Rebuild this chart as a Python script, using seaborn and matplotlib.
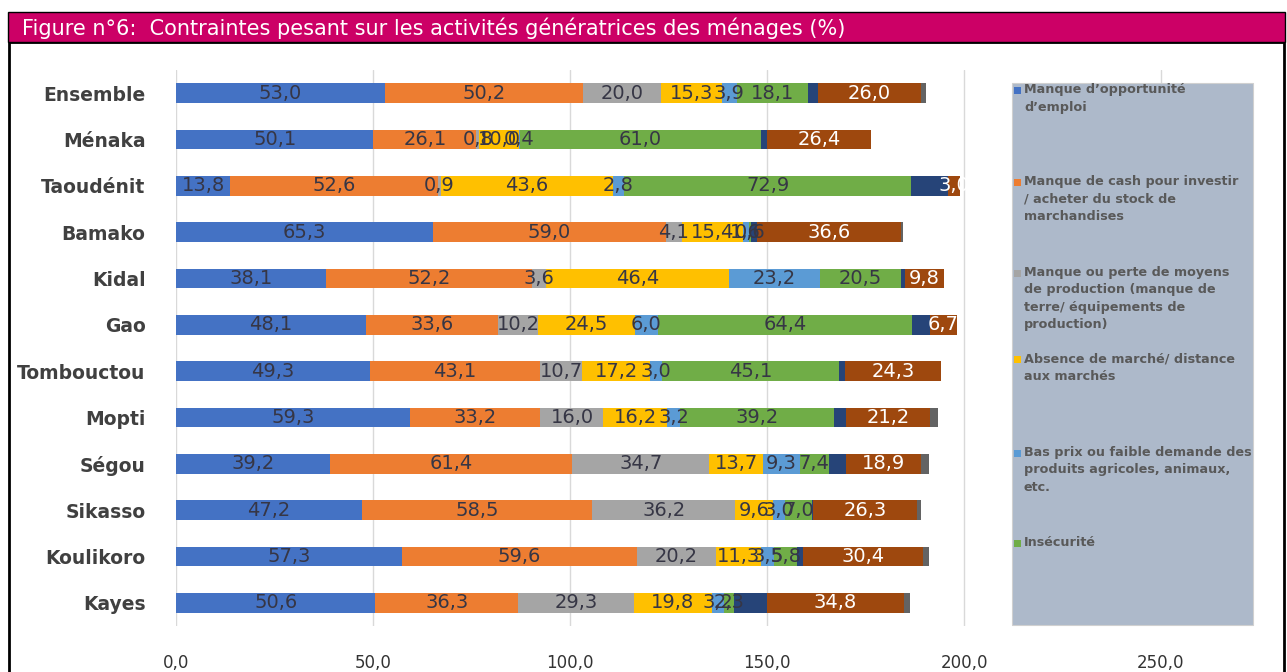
import matplotlib.pyplot as plt
import matplotlib.patches as mpatches
from matplotlib.ticker import FuncFormatter
import pandas as pd
import seaborn as sns

# donnees
regions = ["Ensemble", "Ménaka", "Taoudénit", "Bamako", "Kidal", "Gao", "Tombouctou",
           "Mopti", "Ségou", "Sikasso", "Koulikoro", "Kayes"]

emploi = [53.0, 50.1, 13.8, 65.3, 38.1, 48.1, 49.3, 59.3, 39.2, 47.2, 57.3, 50.6]
cash = [50.2, 26.1, 52.6, 59.0, 52.2, 33.6, 43.1, 33.2, 61.4, 58.5, 59.6, 36.3]
moyens = [20.0, 0.8, 0.9, 4.1, 3.6, 10.2, 10.7, 16.0, 34.7, 36.2, 20.2, 29.3]
marche = [15.3, 10.0, 43.6, 15.4, 46.4, 24.5, 17.2, 16.2, 13.7, 9.6, 11.3, 19.8]
bas_prix = [3.9, 0.4, 2.8, 1.6, 23.2, 6.0, 3.0, 3.2, 9.3, 3.0, 3.5, 3.2]
insecurite = [18.1, 61.0, 72.9, 0.6, 20.5, 64.4, 45.1, 39.2, 7.4, 7.0, 5.8, 2.3]
autre_1 = [2.5, 1.6, 9.4, 1.5, 1.0, 4.6, 1.5, 3.0, 4.4, 0.2, 1.4, 8.5]
autre_2 = [26.0, 26.4, 3.0, 36.6, 9.8, 6.7, 24.3, 21.2, 18.9, 26.3, 30.4, 34.8]
autre_3 = [1.3, 0.0, 0.0, 0.5, 0.0, 0.0, 0.0, 2.2, 2.0, 1.0, 1.5, 1.5]

legend_labels = [
    "Manque d’opportunité\nd’emploi",
    "Manque de cash pour investir\n/ acheter du stock de\nmarchandises",
    "Manque ou perte de moyens\nde production (manque de\nterre/ équipements de\nproduction)",
    "Absence de marché/ distance\naux marchés",
    "Bas prix ou faible demande des\nproduits agricoles, animaux,\netc.",
    "Insécurité",
]
xticks = [0, 50, 100, 150, 200, 250]

series = [emploi, cash, moyens, marche, bas_prix, insecurite, autre_1, autre_2, autre_3]
colors = ["#4472C4", "#ED7D31", "#A5A5A5", "#FFC000", "#5B9BD5", "#70AD47",
          "#264478", "#9E480E", "#636363"]
# etiquettes affichees pour les 6 premieres series et la 8e
show_label = [True, True, True, True, True, True, False, True, False]
label_color = ["#363645"] * 6 + ["white", "white", "white"]

df = pd.DataFrame({f"s{i}": s for i, s in enumerate(series)}, index=regions)
cum = df.cumsum(axis=1)

sns.set_theme(style="white")
plt.rcParams['font.family'] = ['DejaVu Sans']

W, H = 1287, 672
fig = plt.figure(figsize=(W / 100, H / 100), dpi=100)


def fx(px):
    return px / W


def fy(py):
    return 1 - py / H


ax = fig.add_axes([fx(176), fy(626), fx(1253) - fx(176), fy(70) - fy(626)])

# barres empilees: on dessine les cumuls du plus grand au plus petit
for i in reversed(range(len(series))):
    sns.barplot(x=cum[f"s{i}"].values, y=regions, orient="h", color=colors[i],
                width=0.43, linewidth=0, saturation=1, ax=ax)

for i in range(len(series)):
    if not show_label[i]:
        continue
    for j, reg in enumerate(regions):
        v = df.iloc[j, i]
        if v <= 0:
            continue
        left = cum.iloc[j, i] - v
        ax.text(left + v / 2, j, f"{v:.1f}".replace(".", ","), ha="center", va="center",
                fontsize=14, color=label_color[i], zorder=5)

ax.set_xlim(0, (1253 - 176) / 3.94)
ax.set_ylim(len(regions) - 0.5, -0.5)
ax.set_xticks(xticks)
ax.xaxis.set_major_formatter(FuncFormatter(lambda v, p: f"{v:.1f}".replace(".", ",")))
ax.xaxis.grid(True, color="#D9D9D9", lw=1)
ax.yaxis.grid(False)
ax.set_axisbelow(True)
for s in ax.spines.values():
    s.set_visible(False)
ax.set_xlabel("")
ax.set_ylabel("")
ax.tick_params(axis="x", labelsize=12, colors="#333333", pad=20, length=0)
ax.tick_params(axis="y", labelsize=13.5, colors="#404040", pad=22, length=0)
for t in ax.get_yticklabels():
    t.set_fontweight("bold")

# cadre et bandeau de titre
fig.add_artist(mpatches.Rectangle((fx(9), fy(680)), fx(1284) - fx(9), fy(42) - fy(680),
                                  transform=fig.transFigure, fill=False, ec="black", lw=2))
fig.add_artist(mpatches.Rectangle((fx(8), fy(42)), fx(1285) - fx(8), fy(12) - fy(42),
                                  transform=fig.transFigure, fc="#CC0066", ec="black", lw=1))
fig.text(fx(22), fy(28), "Figure n°6:  Contraintes pesant sur les activités génératrices des ménages (%)",
         color="white", fontsize=15, va="center", ha="left")

# legende
fig.add_artist(mpatches.Rectangle((fx(1012), fy(625)), fx(1253) - fx(1012), fy(83) - fy(625),
                                  transform=fig.transFigure, fc="#ADB9CA", ec="#D0D0D0", lw=0.8))
tops = [83, 175, 266, 352, 446, 536]
for k, lab in enumerate(legend_labels):
    fig.add_artist(mpatches.Rectangle((fx(1014), fy(tops[k] + 11)), fx(7), 7 / H,
                                      transform=fig.transFigure, fc=colors[k], ec="none"))
    fig.text(fx(1024), fy(tops[k]), lab, color="#595959", fontsize=9.2, va="top", ha="left",
             fontweight="semibold", linespacing=1.45)

plt.savefig("out.png", dpi=100)
